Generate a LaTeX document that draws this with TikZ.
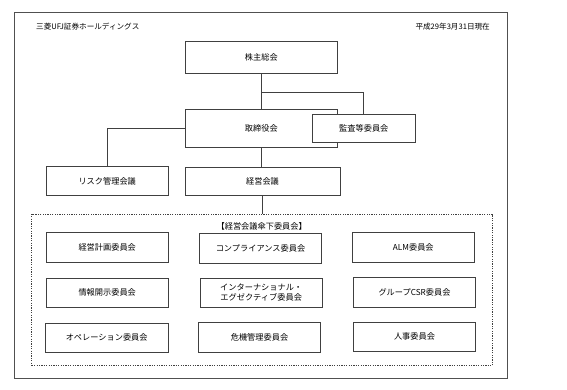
\documentclass[tikz,border=0pt]{standalone}
\usepackage{fontspec}
\setmainfont{Noto Sans CJK JP}
\usepackage{tikz}
\usetikzlibrary{positioning,calc}
\definecolor{lineGray}{HTML}{404040}
\definecolor{frameGray}{HTML}{505050}

\begin{document}
\begin{tikzpicture}[
    x=1pt, y=-1pt,
    every node/.style  = {font=\fontsize{8.2}{10}\selectfont, align=center, inner sep=0pt},
    box/.style         = {draw=lineGray, line width=0.7pt, fill=white},
    organ/.style       = {box, minimum width=152.7pt, minimum height=32pt},
    meeting/.style     = {box, minimum width=122.3pt, minimum height=29pt},
    cmte/.style        = {box, minimum width=122.3pt, minimum height=29.7pt},
    group/.style       = {draw=lineGray, line width=0.5pt, dash pattern=on 1.2pt off 1.2pt,
                          minimum width=460.6pt, minimum height=151.7pt},
    link/.style        = {draw=lineGray, line width=0.7pt},
    hdr/.style         = {font=\fontsize{7.6}{9}\selectfont},
  ]
  \useasboundingbox (0,0) rectangle (567,389);

  %% Outer frame and header texts
  \node[draw=frameGray, line width=0.7pt, minimum width=493pt, minimum height=365.6pt]
    (frame) at (261.2,195.5) {};
  \node[hdr, anchor=west] (company) at (36,27) {三菱UFJ証券ホールディングス};
  \node[hdr, anchor=east] (asof)    at (490,27) {平成29年3月31日現在};

  %% Governance bodies (audit box drawn after the board box, so it covers it)
  \node[organ]                      (kabu)  at (261.3, 57.8)  {株主総会};
  \node[organ, minimum height=38.3pt] (tori) at (261.3,128.2) {取締役会};
  \node[box, minimum width=102.3pt, minimum height=28.7pt]
                                    (kansa) at (363.8,128.3)  {監査等委員会};
  \node[meeting]                    (risk)  at (107.2,181.2)  {リスク管理会議};
  \node[organ, minimum width=155pt, minimum height=28.4pt]
                                    (keiei) at (262.5,181.5)  {経営会議};

  %% Committees under the management meeting
  \node[group] (sub) at (262,289.8) {};
  \node (sublbl) at (261.7,226) {【経営会議傘下委員会】};

  \node[cmte] (plan)  at (107.2,247.5) {経営計画委員会};
  \node[cmte] (comp)  at (260.5,248.2) {コンプライアンス委員会};
  \node[cmte] (alm)   at (413.3,247.5) {ALM委員会};
  \node[cmte] (disc)  at (107.2,292.7) {情報開示委員会};
  \node[cmte] (intl)  at (261.2,292.7) {インターナショナル・\\エグゼクティブ委員会};
  \node[cmte] (csr)   at (414.5,292.2) {グループCSR委員会};
  \node[cmte] (oper)  at (106.7,337.7) {オペレーション委員会};
  \node[cmte] (crisis) at (259.5,337.2) {危機管理委員会};
  \node[cmte] (hr)    at (414.5,336.7) {人事委員会};

  %% Connectors
  \coordinate (split) at ($(kabu.south)+(0,18.3)$);
  \draw[link] (kabu.south) -- (split) -- (split |- tori.north);
  \draw[link] (split) -| (kansa.north);
  \draw[link] (tori.west) -| (risk.north);
  \draw[link] (tori.south) -- (tori.south |- keiei.north);
  \draw[link] (keiei.south) -- (keiei.south |- sub.north);

\end{tikzpicture}
\end{document}
